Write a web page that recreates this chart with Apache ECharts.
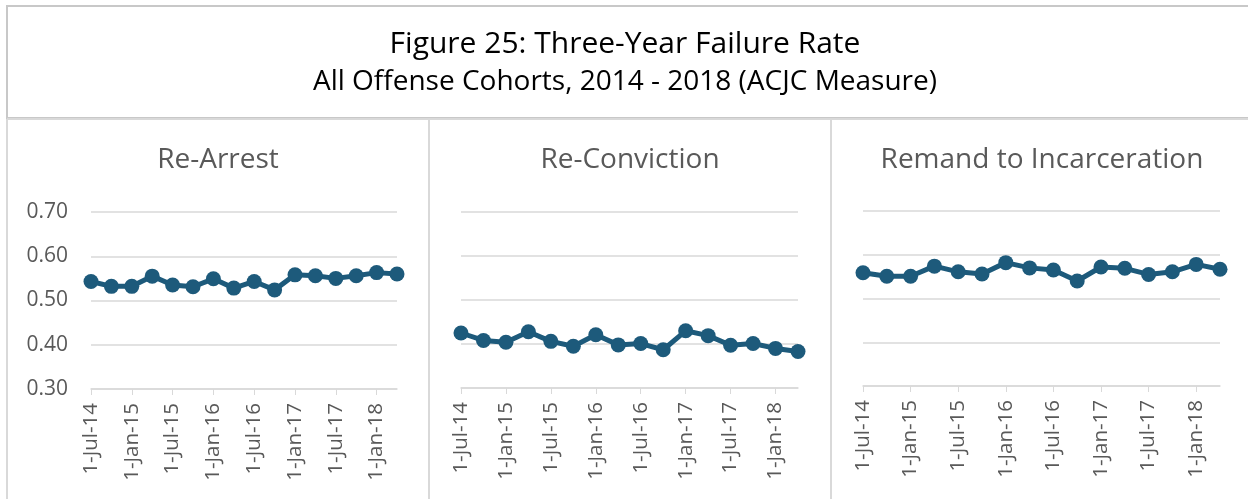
<!DOCTYPE html>
<html>
<head>
<meta charset="utf-8">
<title>Figure 25</title>
<script src="https://cdn.jsdelivr.net/npm/echarts@6/dist/echarts.min.js"></script>
<style>
    html, body { margin: 0; padding: 0; background: #fff; }
    .chart { width: 1248px; height: 499px; }
</style>
</head>
<body>
<div class="chart"></div>
<script>
// 季度队列（每季度一个点）
var categories = ['1-Jul-14', '1-Oct-14', '1-Jan-15', '1-Apr-15', '1-Jul-15', '1-Oct-15',
    '1-Jan-16', '1-Apr-16', '1-Jul-16', '1-Oct-16', '1-Jan-17', '1-Apr-17',
    '1-Jul-17', '1-Oct-17', '1-Jan-18', '1-Apr-18'];
var panelNames = ['Re-Arrest', 'Re-Conviction', 'Remand to Incarceration'];
var reArrest = [0.543, 0.532, 0.532, 0.555, 0.535, 0.531, 0.549, 0.528,
    0.543, 0.524, 0.558, 0.556, 0.550, 0.556, 0.563, 0.560];
var reConviction = [0.425, 0.408, 0.404, 0.428, 0.406, 0.395, 0.421, 0.398,
    0.401, 0.387, 0.430, 0.419, 0.397, 0.401, 0.390, 0.383];
var remand = [0.559, 0.551, 0.551, 0.574, 0.561, 0.556, 0.582, 0.570,
    0.565, 0.540, 0.572, 0.569, 0.555, 0.561, 0.578, 0.567];
var yTicks = [0.30, 0.40, 0.50, 0.60, 0.70];

(function () {
    var myChart = echarts.init(document.querySelector('.chart'))
    var lineColor = '#1d5a7b'
    var font = '"Open Sans", sans-serif'
    var allData = [reArrest, reConviction, remand]

    // 三个面板的位置
    var grids = [
        { left: 91, top: 212, width: 306, height: 177 },
        { left: 461, top: 212, width: 337, height: 176 },
        { left: 863, top: 211, width: 357, height: 175 }
    ]
    var titleX = [213, 625, 1037]

    var xAxes = [], yAxes = [], series = [], titles = []
    titles.push({
        text: 'Figure 25: Three-Year Failure Rate',
        subtext: 'All Offense Cohorts, 2014 - 2018 (ACJC Measure)',
        left: 620, top: 24, textAlign: 'center', itemGap: 9,
        textStyle: { fontFamily: font, fontSize: 30, fontWeight: 'normal', color: '#000' },
        subtextStyle: { fontFamily: font, fontSize: 28, color: '#000' }
    })
    for (var i = 0; i < 3; i++) {
        titles.push({
            text: panelNames[i], left: titleX[i], top: 141, textAlign: 'center',
            textStyle: { fontFamily: font, fontSize: 28, fontWeight: 'normal', color: '#595959' }
        })
        xAxes.push({
            type: 'category', gridIndex: i, data: categories, boundaryGap: false,
            axisLine: { lineStyle: { color: '#d9d9d9', width: 1.5 } },
            axisTick: { show: true, interval: 1, length: 6, lineStyle: { color: '#d9d9d9' } },
            axisLabel: {
                interval: 1, rotate: 90, margin: 14, fontFamily: font, fontSize: 20.5, color: '#595959'
            }
        })
        yAxes.push({
            type: 'value', gridIndex: i, min: yTicks[0], max: yTicks[yTicks.length - 1], interval: 0.1,
            axisLine: { show: false }, axisTick: { show: false },
            axisLabel: {
                show: i === 0, margin: 23, fontFamily: font, fontSize: 21, color: '#595959',
                formatter: function (v) { return v.toFixed(2) }
            },
            splitLine: { lineStyle: { color: '#d9d9d9', width: 1.5 } }
        })
        series.push({
            type: 'line', xAxisIndex: i, yAxisIndex: i, data: allData[i],
            symbol: 'circle', symbolSize: 15, showAllSymbol: true,
            lineStyle: { color: lineColor, width: 5 },
            itemStyle: { color: lineColor }
        })
    }

    var option = {
        animation: false,
        title: titles,
        grid: grids,
        xAxis: xAxes,
        yAxis: yAxes,
        series: series,
        graphic: [
            { type: 'rect', shape: { x: 7, y: 6, width: 1260, height: 112 },
              style: { fill: 'none', stroke: '#c8c8c8', lineWidth: 2 } },
            { type: 'line', shape: { x1: 7, y1: 119, x2: 7, y2: 499 },
              style: { stroke: '#d9d9d9', lineWidth: 2 } },
            { type: 'line', shape: { x1: 429, y1: 119, x2: 429, y2: 499 },
              style: { stroke: '#d9d9d9', lineWidth: 2 } },
            { type: 'line', shape: { x1: 831, y1: 119, x2: 831, y2: 499 },
              style: { stroke: '#d9d9d9', lineWidth: 2 } },
            { type: 'line', shape: { x1: 7, y1: 119, x2: 1248, y2: 119 },
              style: { stroke: '#d9d9d9', lineWidth: 2 } }
        ]
    }
    myChart.setOption(option)
    window.addEventListener('resize', function () {
        myChart.resize()
    })
})()
</script>
</body>
</html>
